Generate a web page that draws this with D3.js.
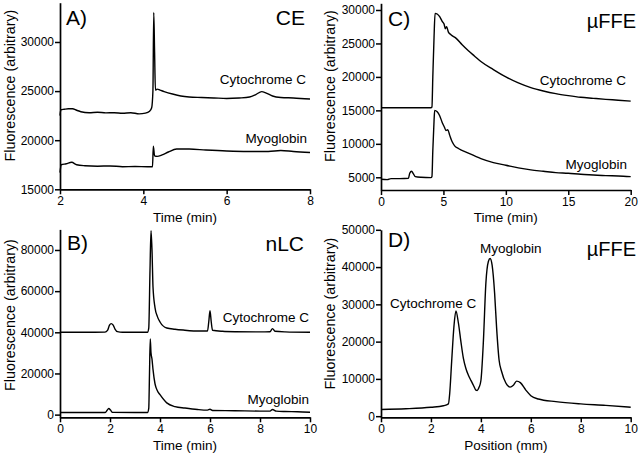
<!DOCTYPE html>
<html>
<head>
<meta charset="utf-8">
<script src="https://cdn.jsdelivr.net/npm/d3@7"></script>
<style>
  html, body { margin: 0; padding: 0; background: #fff; }
  svg { display: block; font-family: "Liberation Sans", Arial, sans-serif; }
</style>
</head>
<body>
<svg id="chart" width="640" height="456"></svg>
<script>
// ---------- DATA ----------
// Panel A (CE): [time (min), fluorescence]
const ceCytochromeC = [[2.00,22500],[2.02,23100],[2.1,23150],[2.2,23200],[2.3,23200],[2.4,23050],[2.5,22900],[2.7,22800],[2.9,22850],[3.1,22780],[3.3,22800],[3.5,22750],[3.7,22800],[3.9,22680],[4.05,22750],[4.15,22950],[4.2,23300],[4.23,25000],[4.25,33000],[4.27,29000],[4.29,25100],[4.33,25200],[4.4,25100],[4.5,24950],[4.7,24700],[4.9,24500],[5.1,24400],[5.4,24350],[5.7,24300],[6.0,24250],[6.3,24300],[6.55,24400],[6.7,24650],[6.84,24950],[6.95,24800],[7.1,24500],[7.3,24350],[7.6,24300],[8.0,24200]];
const ceMyoglobin = [[2.00,16700],[2.03,17500],[2.15,17600],[2.28,17750],[2.4,17500],[2.6,17400],[2.9,17350],[3.2,17380],[3.5,17300],[3.8,17320],[4.1,17300],[4.22,17300],[4.24,19400],[4.27,18400],[4.33,18350],[4.45,18500],[4.6,18800],[4.8,19100],[5.1,19100],[5.5,19000],[6.0,18900],[6.5,18850],[7.0,18850],[7.3,18950],[7.6,18850],[8.0,18750]];

// Panel B (nLC)
const lcCytochromeC = [[0,40000],[1.0,40000],[1.8,40100],[1.9,40900],[1.98,43500],[2.05,44200],[2.12,43600],[2.2,41600],[2.3,40300],[2.5,40000],[3.0,40000],[3.5,40000],[3.55,42000],[3.6,70000],[3.64,89400],[3.68,80000],[3.72,62000],[3.8,52000],[3.9,47500],[4.0,45000],[4.27,42100],[4.6,41500],[4.93,41100],[5.6,40600],[5.9,40600],[5.95,45000],[6.0,50500],[6.05,45000],[6.1,41000],[6.5,40500],[7.0,40300],[8.0,40200],[8.4,40300],[8.5,41800],[8.6,40500],[9.0,40200],[10,40000]];
const lcMyoglobin = [[0,1000],[1.8,1000],[1.88,2000],[1.95,3000],[2.02,2200],[2.1,1100],[3.0,1000],[3.5,1000],[3.55,3000],[3.58,20000],[3.61,36800],[3.64,30000],[3.68,27000],[3.72,22000],[3.8,15000],[3.9,11500],[4.0,9700],[4.27,5700],[4.6,3900],[5.0,3200],[5.5,2500],[5.9,2200],[6.0,2600],[6.1,2000],[7.0,1900],[8.0,1700],[8.4,1700],[8.5,2500],[8.65,1700],[9.0,1500],[9.5,1400],[10,1150]];

// Panel C (µFFE, time)
const ffeTimeCytochromeC = [[0,15400],[2,15400],[4.0,15400],[4.08,15500],[4.15,20000],[4.25,26000],[4.33,29500],[4.5,29400],[4.7,29000],[4.9,28300],[5.05,27900],[5.15,27200],[5.25,27500],[5.4,26700],[5.6,26300],[6.0,25800],[6.5,24800],[7.0,23900],[7.5,23100],[8.0,22300],[9.0,21100],[10,20000],[11,19100],[12,18400],[13,17900],[14,17500],[15,17200],[16,16950],[17,16800],[18,16650],[19,16520],[20,16380]];
const ffeTimeMyoglobin = [[0,4700],[0.5,4650],[0.8,4800],[1.5,4800],[2.2,4850],[2.3,5600],[2.45,5900],[2.6,5500],[2.75,5100],[3.2,5000],[4.0,4950],[4.08,5100],[4.15,9000],[4.25,13500],[4.3,15000],[4.5,14800],[4.7,14200],[4.9,13200],[5.1,12400],[5.2,12000],[5.35,12100],[5.5,11300],[5.7,10300],[5.9,9700],[6.2,9300],[7,8600],[8,7800],[9,7200],[10,6800],[11,6400],[12,6100],[13,5900],[14,5700],[15,5600],[16,5450],[17,5350],[18,5250],[19,5200],[20,5100]];

// Panel D (µFFE, position)
const ffePosition = [[0,1800],[1,2000],[2,2400],[2.5,2800],[2.7,3300],[2.75,6000],[2.83,14700],[2.92,24000],[3.0,28200],[3.1,25000],[3.2,20000],[3.3,15500],[3.4,12800],[3.5,11000],[3.6,9600],[3.7,8300],[3.8,7000],[3.85,6900],[3.93,7800],[4.0,9500],[4.1,20000],[4.2,35700],[4.3,41500],[4.37,42300],[4.45,40500],[4.55,33000],[4.63,23700],[4.73,15000],[4.83,12000],[5.0,8900],[5.17,7800],[5.3,8300],[5.43,9400],[5.58,9000],[5.8,7000],[6.0,5500],[6.3,4600],[7,3900],[8,3300],[9,2900],[10,2400]];

// Tick values
const ceXTicks = [2,4,6,8];
const ceYTicks = [15000,20000,25000,30000];
const lcXTicks = [0,2,4,6,8,10];
const lcYTicks = [0,20000,40000,60000,80000];
const ffeTimeXTicks = [0,5,10,15,20];
const ffeTimeYTicks = [5000,10000,15000,20000,25000,30000];
const ffePosXTicks = [0,2,4,6,8,10];
const ffePosYTicks = [0,10000,20000,30000,40000,50000];

// ---------- DRAW ----------
const svg = d3.select("#chart");
const fmt = d3.format("d");

function panel(cfg) {
  const x = d3.scaleLinear().domain(cfg.xDomain).range(cfg.xRange);
  const y = d3.scaleLinear().domain(cfg.yDomain).range(cfg.yRange);
  const g = svg.append("g");

  const xAxis = d3.axisBottom(x).tickValues(cfg.xTicks).tickFormat(fmt).tickSize(5).tickSizeOuter(0).tickPadding(2);
  const yAxis = d3.axisLeft(y).tickValues(cfg.yTicks).tickFormat(fmt).tickSize(5).tickSizeOuter(0).tickPadding(1);

  const gx = g.append("g").attr("transform", `translate(0,${cfg.yRange[0]})`).call(xAxis);
  const gy = g.append("g").attr("transform", `translate(${cfg.xRange[0]},0)`).call(yAxis);
  [gx, gy].forEach(a => {
    a.selectAll("path.domain").attr("stroke", "#000").attr("stroke-width", 1.7);
    a.selectAll(".tick line").attr("stroke", "#000").attr("stroke-width", 1.5);
    a.selectAll(".tick text").attr("fill", "#000").style("font-size", "12px").style("font-family", "Liberation Sans, Arial, sans-serif");
  });

  const line = d3.line().x(d => x(d[0])).y(d => y(d[1])).curve(d3.curveMonotoneX);
  cfg.series.forEach(s => {
    g.append("path").datum(s).attr("d", line)
      .attr("fill", "none").attr("stroke", "#000").attr("stroke-width", 1.4).attr("stroke-linejoin", "round");
  });

  // axis titles
  g.append("text").attr("x", (cfg.xRange[0] + cfg.xRange[1]) / 2).attr("y", cfg.xTitleY)
    .attr("text-anchor", "middle").style("font-size", "13.5px").text(cfg.xTitle);
  g.append("text")
    .attr("transform", `translate(${cfg.yTitleX},${cfg.yTitleCY}) rotate(-90)`)
    .attr("text-anchor", "middle").style("font-size", "14.3px").text("Fluorescence (arbitrary)");

  cfg.labels.forEach(l => {
    g.append("text").attr("x", l.x).attr("y", l.y).attr("text-anchor", l.anchor || "start")
      .style("font-size", l.size + "px").text(l.text);
  });
}

panel({
  xDomain: [2, 8], xRange: [60, 310], yDomain: [15000, 34000], yRange: [189.3, 2.7],
  xTicks: ceXTicks, yTicks: ceYTicks, series: [ceCytochromeC, ceMyoglobin],
  xTitle: "Time (min)", xTitleY: 221.7, yTitleX: 14.5, yTitleCY: 85.5,
  labels: [
    {text: "A)", x: 66, y: 25, size: 21},
    {text: "CE", x: 305, y: 25, size: 21, anchor: "end"},
    {text: "Cytochrome C", x: 306, y: 84, size: 13.5, anchor: "end"},
    {text: "Myoglobin", x: 307, y: 142.5, size: 13.5, anchor: "end"}
  ]
});

panel({
  xDomain: [0, 10], xRange: [60, 310], yDomain: [-1300, 90000], yRange: [417.3, 229.4],
  xTicks: lcXTicks, yTicks: lcYTicks, series: [lcCytochromeC, lcMyoglobin],
  xTitle: "Time (min)", xTitleY: 449.6, yTitleX: 14.5, yTitleCY: 315,
  labels: [
    {text: "B)", x: 67, y: 250, size: 21},
    {text: "nLC", x: 304, y: 251, size: 21, anchor: "end"},
    {text: "Cytochrome C", x: 309, y: 322.3, size: 13.5, anchor: "end"},
    {text: "Myoglobin", x: 309, y: 403.7, size: 13.5, anchor: "end"}
  ]
});

panel({
  xDomain: [0, 20], xRange: [381, 630.7], yDomain: [3100, 31000], yRange: [190, 3.3],
  xTicks: ffeTimeXTicks, yTicks: ffeTimeYTicks, series: [ffeTimeCytochromeC, ffeTimeMyoglobin],
  xTitle: "Time (min)", xTitleY: 221.7, yTitleX: 334.5, yTitleCY: 86,
  labels: [
    {text: "C)", x: 388, y: 26, size: 21},
    {text: "\u00B5FFE", x: 636, y: 28, size: 20, anchor: "end"},
    {text: "Cytochrome C", x: 626, y: 85, size: 13.5, anchor: "end"},
    {text: "Myoglobin", x: 627, y: 168.5, size: 13.5, anchor: "end"}
  ]
});

panel({
  xDomain: [0, 10], xRange: [381, 630.7], yDomain: [-300, 50000], yRange: [417.3, 229.8],
  xTicks: ffePosXTicks, yTicks: ffePosYTicks, series: [ffePosition],
  xTitle: "Position (mm)", xTitleY: 449.6, yTitleX: 334.5, yTitleCY: 313.5,
  labels: [
    {text: "D)", x: 388, y: 247, size: 21},
    {text: "\u00B5FFE", x: 636, y: 256, size: 20, anchor: "end"},
    {text: "Myoglobin", x: 510.8, y: 253, size: 13.5, anchor: "middle"},
    {text: "Cytochrome C", x: 390, y: 308, size: 13.5}
  ]
});
</script>
</body>
</html>
